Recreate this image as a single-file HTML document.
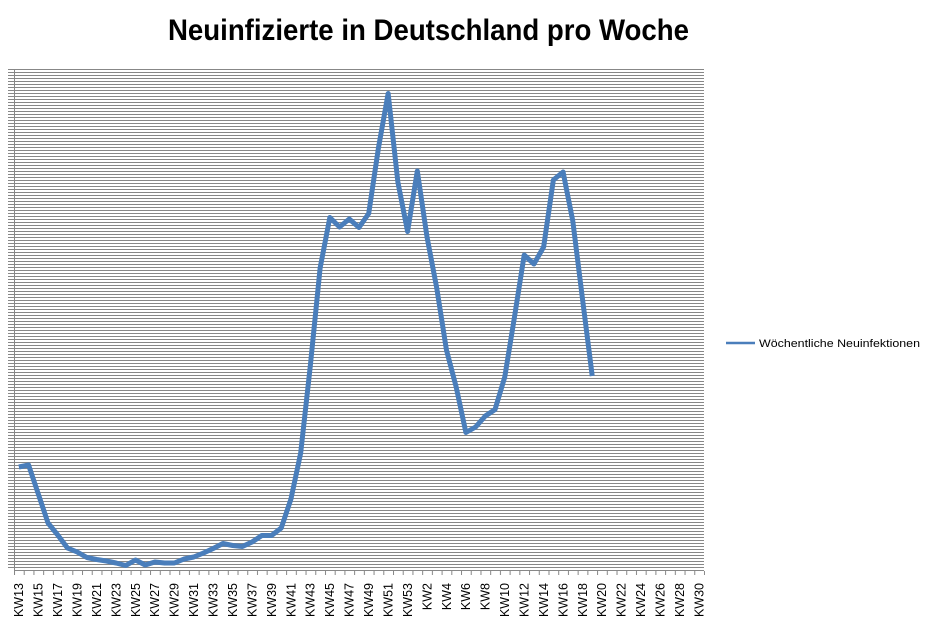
<!DOCTYPE html>
<html>
<head>
<meta charset="utf-8">
<style>
  html, body { margin: 0; padding: 0; background: #ffffff; }
  body { width: 928px; height: 630px; overflow: hidden; }
  svg { display: block; }
</style>
</head>
<body>
<svg width="928" height="630" viewBox="0 0 928 630" xmlns="http://www.w3.org/2000/svg">
  <defs>
    <pattern id="grid" patternUnits="userSpaceOnUse" x="8" y="69" width="696" height="3">
      <rect x="0" y="0" width="696" height="1" fill="#878787"/>
    </pattern>
    <pattern id="ticks" patternUnits="userSpaceOnUse" x="14" y="571" width="9.718" height="4">
      <rect x="0" y="0" width="1" height="4" fill="#878787"/>
    </pattern>
  </defs>
  <rect x="0" y="0" width="928" height="630" fill="#ffffff"/>

  <!-- Title -->
  <text x="168" y="40" font-family="'Liberation Sans', sans-serif" font-weight="bold" font-size="30" fill="#000" textLength="521" lengthAdjust="spacingAndGlyphs">Neuinfizierte in Deutschland pro Woche</text>

  <!-- gridlines -->
  <rect x="8" y="69" width="696" height="501" fill="url(#grid)"/>
  <!-- axes -->
  <rect x="14" y="570" width="690" height="1" fill="#878787"/>
  <rect x="14" y="69" width="1" height="506" fill="#878787"/>
  <!-- x ticks -->
  <rect x="14" y="571" width="691" height="4" fill="url(#ticks)"/>

  <!-- data series -->
  <polyline fill="none" stroke="#4a7ebb" stroke-width="5" stroke-linejoin="round" stroke-linecap="butt"
    points="18.86,467 28.58,465 38.30,494 48.01,523 57.73,535 67.45,548 77.17,552 86.89,557.5 96.60,559.5 106.32,561 116.04,563 125.76,565.5 135.48,560 145.19,565 154.91,562 164.63,563 174.35,563 184.07,559 193.78,557 203.50,553 213.22,548.5 222.94,543.5 232.66,545.5 242.37,546.5 252.09,542 261.81,535.5 271.53,535.5 281.25,528 290.96,499 300.68,453 310.40,365 320.12,268 329.84,217.5 339.55,227 349.27,219 358.99,227.5 368.71,213.5 378.43,148 388.14,93.5 397.86,182 407.58,231.5 417.30,171 427.02,237 436.73,288 446.45,350 456.17,387 465.89,432.5 475.61,427 485.32,416 495.04,409.5 504.76,377 514.48,317 524.20,255 533.91,264 543.63,247 553.35,180 563.07,172 572.79,221 582.50,299 592.22,376"/>

  <!-- x labels -->
  <g font-family="'Liberation Sans', sans-serif" font-size="12.5" fill="#000" text-anchor="end">
    <text transform="translate(23.16,583) rotate(-90)">KW13</text>
    <text transform="translate(42.6,583) rotate(-90)">KW15</text>
    <text transform="translate(62.03,583) rotate(-90)">KW17</text>
    <text transform="translate(81.47,583) rotate(-90)">KW19</text>
    <text transform="translate(100.9,583) rotate(-90)">KW21</text>
    <text transform="translate(120.34,583) rotate(-90)">KW23</text>
    <text transform="translate(139.78,583) rotate(-90)">KW25</text>
    <text transform="translate(159.21,583) rotate(-90)">KW27</text>
    <text transform="translate(178.65,583) rotate(-90)">KW29</text>
    <text transform="translate(198.08,583) rotate(-90)">KW31</text>
    <text transform="translate(217.52,583) rotate(-90)">KW33</text>
    <text transform="translate(236.96,583) rotate(-90)">KW35</text>
    <text transform="translate(256.39,583) rotate(-90)">KW37</text>
    <text transform="translate(275.83,583) rotate(-90)">KW39</text>
    <text transform="translate(295.26,583) rotate(-90)">KW41</text>
    <text transform="translate(314.7,583) rotate(-90)">KW43</text>
    <text transform="translate(334.14,583) rotate(-90)">KW45</text>
    <text transform="translate(353.57,583) rotate(-90)">KW47</text>
    <text transform="translate(373.01,583) rotate(-90)">KW49</text>
    <text transform="translate(392.44,583) rotate(-90)">KW51</text>
    <text transform="translate(411.88,583) rotate(-90)">KW53</text>
    <text transform="translate(431.32,583) rotate(-90)">KW2</text>
    <text transform="translate(450.75,583) rotate(-90)">KW4</text>
    <text transform="translate(470.19,583) rotate(-90)">KW6</text>
    <text transform="translate(489.62,583) rotate(-90)">KW8</text>
    <text transform="translate(509.06,583) rotate(-90)">KW10</text>
    <text transform="translate(528.5,583) rotate(-90)">KW12</text>
    <text transform="translate(547.93,583) rotate(-90)">KW14</text>
    <text transform="translate(567.37,583) rotate(-90)">KW16</text>
    <text transform="translate(586.8,583) rotate(-90)">KW18</text>
    <text transform="translate(606.24,583) rotate(-90)">KW20</text>
    <text transform="translate(625.68,583) rotate(-90)">KW22</text>
    <text transform="translate(645.11,583) rotate(-90)">KW24</text>
    <text transform="translate(664.55,583) rotate(-90)">KW26</text>
    <text transform="translate(683.99,583) rotate(-90)">KW28</text>
    <text transform="translate(703.42,583) rotate(-90)">KW30</text>
  </g>

  <!-- legend -->
  <line x1="726" y1="343" x2="755" y2="343" stroke="#4a7ebb" stroke-width="2.5"/>
  <text x="759" y="347" font-family="'Liberation Sans', sans-serif" font-size="11" fill="#000" textLength="161" lengthAdjust="spacingAndGlyphs">Wöchentliche Neuinfektionen</text>
</svg>
</body>
</html>
